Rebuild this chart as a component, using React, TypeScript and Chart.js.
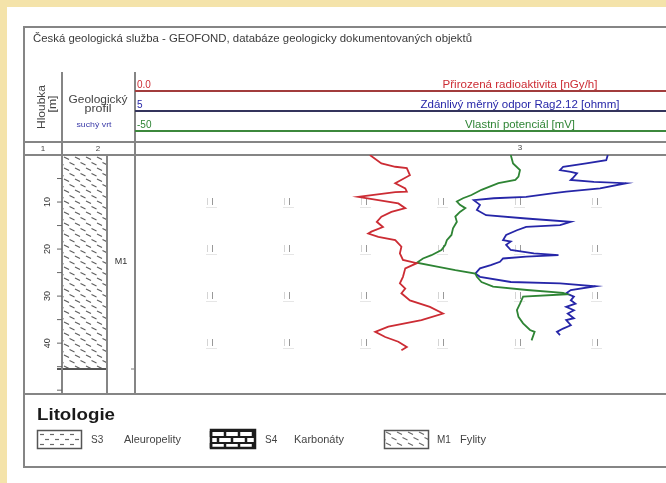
import { useEffect, useRef } from 'react';
import { Chart, registerables } from 'chart.js';

Chart.register(...registerables);

// ---- data (depth in metres) ----
const depthTicks = [10, 20, 30, 40];
const depthMinorStep = 5;
const depthMax = 50.6;
const profileBottom = 45.5; // M1 layer base
const layerCode = 'M1';

const redRange = [0, 100]; // nGy/h
const blueRange = [5, 505]; // ohmm
const greenRange = [-50, 50]; // mV

const redDepth = [0, 1.8, 2.5, 2.8, 4.3, 6.0, 7.1, 7.8, 7.9, 8.9, 9.6, 10.3, 11.3, 12.1, 13.1, 14.2, 15.3, 16.3, 16.7, 17.4, 18.1, 19.5, 20.9, 22.3, 23.0, 24.1, 25.9, 27.3, 28.4, 29.4, 30.9, 32.3, 33.7, 35.1, 36.5, 37.6, 38.7, 39.7, 40.8, 41.5];
const redRate = [30.5, 32.0, 33.8, 35.3, 35.7, 33.8, 35.1, 35.3, 33.8, 29.0, 31.6, 34.2, 35.1, 33.3, 32.0, 31.4, 32.2, 30.7, 30.3, 31.6, 33.8, 34.6, 34.4, 34.8, 36.6, 35.1, 34.8, 34.4, 35.1, 34.6, 35.7, 38.3, 40.0, 37.2, 32.9, 31.2, 32.5, 34.2, 35.3, 34.6];

const greenDepth = [0, 1.8, 3.2, 4.6, 5.3, 6.0, 7.4, 8.5, 9.2, 9.9, 10.6, 11.3, 12.1, 13.1, 14.2, 15.6, 17.0, 18.1, 19.1, 20.2, 21.3, 22.0, 22.9, 23.8, 24.5, 25.2, 25.9, 27.0, 28.0, 28.7, 29.3, 29.6, 30.1, 31.6, 33.0, 34.4, 35.8, 37.2, 37.6, 39.4];
const greenSP = [-1.2, -0.9, 0.0, -0.2, -0.6, -2.8, -5.0, -6.3, -7.4, -8.2, -7.8, -7.1, -7.8, -8.4, -8.2, -8.7, -8.9, -9.5, -9.7, -10.2, -11.5, -12.6, -13.4, -10.6, -8.4, -5.8, -5.6, -5.0, -3.5, 0.9, 5.6, 6.1, 0.4, 0.0, -0.4, -0.2, 0.4, 1.3, 1.9, 1.5];

const blueDepth = [0, 1.1, 1.8, 2.5, 3.2, 3.6, 3.9, 5.0, 5.3, 5.7, 6.0, 7.1, 7.8, 8.1, 8.9, 9.2, 9.6, 10.6, 11.7, 12.8, 13.5, 14.2, 14.9, 15.3, 16.0, 17.0, 18.1, 18.4, 19.1, 20.2, 20.9, 21.3, 21.6, 22.0, 22.7, 23.4, 24.1, 25.2, 25.9, 27.0, 27.3, 27.9, 28.7, 29.4, 30.1, 30.9, 31.6, 32.3, 33.0, 33.7, 34.7, 35.1, 36.2, 36.9, 37.6, 38.3];
const blueRes = [312, 311, 298, 283, 281, 288, 292, 289, 288, 303, 324, 307, 285, 277, 259, 238, 225, 229, 227, 233, 259, 288, 281, 259, 253, 246, 244, 249, 246, 249, 264, 280, 259, 244, 242, 236, 229, 226, 229, 249, 281, 304, 288, 285, 290, 288, 291, 285, 290, 286, 290, 285, 288, 283, 279, 281];

const titleText = 'Česká geologická služba - GEOFOND, databáze geologicky dokumentovaných objektů';
const redLabel = 'Přirozená radioaktivita [nGy/h]';
const blueLabel = 'Zdánlivý měrný odpor Rag2.12 [ohmm]';
const greenLabel = 'Vlastní potenciál [mV]';
const legendItems = [
  { code: 'S3', name: 'Aleuropelity', kind: 'dash' },
  { code: 'S4', name: 'Karbonáty', kind: 'brick' },
  { code: 'M1', name: 'Fylity', kind: 'slant' },
];

const W = 930;
const H = 483;
const FONT = 'Arial, "Liberation Sans", sans-serif';
const RED = '#cc2c34';
const BLUE = '#2626a8';
const GREEN = '#2e8434';

function fitText(ctx: CanvasRenderingContext2D, text: string, x: number, y: number, w: number, font: string, color: string, align: 'left' | 'center' | 'right' = 'left') {
  ctx.save();
  ctx.font = font;
  const m = ctx.measureText(text).width;
  const s = w / m;
  const x0 = align === 'center' ? x - w / 2 : align === 'right' ? x - w : x;
  ctx.fillStyle = color;
  ctx.textAlign = 'left';
  ctx.textBaseline = 'alphabetic';
  ctx.translate(x0, y);
  ctx.scale(s, 1);
  ctx.fillText(text, 0, 0);
  ctx.restore();
}

function hLine(ctx: CanvasRenderingContext2D, x1: number, x2: number, y: number, color: string, w: number) {
  ctx.beginPath();
  ctx.strokeStyle = color;
  ctx.lineWidth = w;
  ctx.moveTo(x1, y);
  ctx.lineTo(x2, y);
  ctx.stroke();
}
function vLine(ctx: CanvasRenderingContext2D, x: number, y1: number, y2: number, color: string, w: number) {
  ctx.beginPath();
  ctx.strokeStyle = color;
  ctx.lineWidth = w;
  ctx.moveTo(x, y1);
  ctx.lineTo(x, y2);
  ctx.stroke();
}

function slantPattern(ctx: CanvasRenderingContext2D, x: number, y: number, w: number, h: number, color: string) {
  ctx.save();
  ctx.beginPath();
  ctx.rect(x, y, w, h);
  ctx.clip();
  ctx.strokeStyle = color;
  ctx.lineWidth = 1.2;
  let row = 0;
  for (let yy = y + 3; yy < y + h + 4; yy += 5.5) {
    const off = row % 2 === 0 ? 2 : 7.5;
    for (let xx = x + off - 11; xx < x + w + 4; xx += 11) {
      ctx.beginPath();
      ctx.moveTo(xx, yy - 1);
      ctx.lineTo(xx + 2, yy);
      ctx.lineTo(xx + 5, yy + 1.5);
      ctx.stroke();
    }
    row++;
  }
  ctx.restore();
}

const framePlugin = {
  id: 'geoFrame',
  beforeDraw(chart: any) {
    const ctx: CanvasRenderingContext2D = chart.ctx;
    const ca = chart.chartArea;
    const ys = chart.scales.y;
    const xr = chart.scales.xRed;
    ctx.save();
    // background
    ctx.fillStyle = '#f4e3aa';
    ctx.fillRect(0, 0, W, H);
    ctx.fillStyle = '#ffffff';
    ctx.fillRect(7, 7, W - 7, H - 7);

    const FR = '#858585';
    const xL = 24;
    const xC1 = 62;
    const xC2 = 107;
    const xC3 = ca.left;
    const xR = 918;
    const yTop = 27;
    const yHead = 72;
    const yNum1 = 142;
    const yNum2 = ca.top;
    const yBody = ca.bottom + 1;
    const yBot = 467;

    // grid marks in curve track
    for (let k = 1; k < 10; k++) {
      const gx = Math.round(xr.getPixelForValue(redRange[0] + (k * (redRange[1] - redRange[0])) / 10));
      for (const d of depthTicks) {
        const gy = Math.round(ys.getPixelForValue(d));
        ctx.fillStyle = '#d4d4d4';
        ctx.fillRect(gx - 5, gy - 4, 1, 7);
        ctx.fillStyle = '#999999';
        ctx.fillRect(gx, gy - 4, 1, 7);
        ctx.fillStyle = '#e6e6e6';
        ctx.fillRect(gx - 6, gy + 5, 11, 1);
      }
    }

    // profile hatch
    const yProf = ys.getPixelForValue(profileBottom);
    slantPattern(ctx, xC1, yNum2, xC2 - xC1, yProf - yNum2, '#5e5e5e');
    hLine(ctx, xC1 - 5, xC2, yProf, '#555555', 2);
    hLine(ctx, xC3 - 4, xC3, yProf, '#777777', 1);

    // frame lines
    ctx.strokeStyle = FR;
    ctx.lineWidth = 2;
    ctx.strokeRect(xL, yTop, xR - xL, yBot - yTop);
    hLine(ctx, xL, xR, yNum1, FR, 2);
    hLine(ctx, xL, xR, yNum2, FR, 2);
    hLine(ctx, xL, xR, yBody, FR, 2);
    vLine(ctx, xC1, yHead, yBody, FR, 2);
    vLine(ctx, xC3, yHead, yBody, FR, 2);
    vLine(ctx, xC2, yNum2, yBody, FR, 2);

    // depth ticks and labels
    for (let d = depthMinorStep; d < depthMax; d += depthMinorStep) {
      const ty = ys.getPixelForValue(d);
      hLine(ctx, xC1 - 5, xC1, ty, '#666666', 1);
    }
    for (const d of depthTicks) {
      const ty = ys.getPixelForValue(d);
      ctx.save();
      ctx.translate(48, ty);
      ctx.rotate(-Math.PI / 2);
      ctx.font = `9px ${FONT}`;
      ctx.fillStyle = '#333333';
      ctx.textAlign = 'center';
      ctx.textBaseline = 'middle';
      ctx.fillText(String(d), 0, 0);
      ctx.restore();
    }

    // layer label
    ctx.font = `9px ${FONT}`;
    ctx.fillStyle = '#333333';
    ctx.textAlign = 'center';
    ctx.textBaseline = 'middle';
    ctx.fillText(layerCode, (xC2 + xC3) / 2, ys.getPixelForValue(profileBottom / 2));

    // title
    fitText(ctx, titleText, 33, 42, 439, `11px ${FONT}`, '#3a3a3a');

    // column headers
    ctx.save();
    ctx.translate(41, 107);
    ctx.rotate(-Math.PI / 2);
    fitText(ctx, 'Hloubka', 0, 4, 44, `11px ${FONT}`, '#444444', 'center');
    fitText(ctx, '[m]', 3, 15, 17, `11px ${FONT}`, '#444444', 'center');
    ctx.restore();
    fitText(ctx, 'Geologický', 98, 103, 59, `11px ${FONT}`, '#444444', 'center');
    fitText(ctx, 'profil', 98, 112, 27, `11px ${FONT}`, '#444444', 'center');
    fitText(ctx, 'suchý vrt', 94, 127, 35, `8px ${FONT}`, '#3a3aa8', 'center');

    ctx.font = `8px ${FONT}`;
    ctx.fillStyle = '#444444';
    ctx.textAlign = 'center';
    ctx.textBaseline = 'middle';
    ctx.fillText('1', (xL + xC1) / 2, 149);
    ctx.fillText('2', 98, 149);
    ctx.fillText('3', (ca.left + ca.right) / 2, 148);

    // curve header lines
    const cx = (ca.left + ca.right) / 2;
    const heads = [
      { y: 91, color: '#a23c3c', text: RED, label: redLabel, w: 155, min: redRange[0].toFixed(1), max: redRange[1].toFixed(1) },
      { y: 111, color: '#34345c', text: BLUE, label: blueLabel, w: 199, min: String(blueRange[0]), max: String(blueRange[1]) },
      { y: 131, color: '#3c883c', text: GREEN, label: greenLabel, w: 110, min: String(greenRange[0]), max: String(greenRange[1]) },
    ];
    for (const h of heads) {
      hLine(ctx, ca.left, ca.right, h.y, h.color, 2);
      fitText(ctx, h.label, cx, h.y - 3, h.w, `10px ${FONT}`, h.text, 'center');
      ctx.font = `10px ${FONT}`;
      ctx.fillStyle = h.text;
      ctx.textAlign = 'left';
      ctx.textBaseline = 'alphabetic';
      ctx.fillText(h.min, ca.left + 2, h.y - 3);
      ctx.textAlign = 'right';
      ctx.fillText(h.max, ca.right - 2, h.y - 3);
    }

    // legend
    fitText(ctx, 'Litologie', 37, 420, 78, `bold 17px ${FONT}`, '#1a1a1a');
    const boxX = [37, 211, 384];
    const codeX = [91, 265, 437];
    const nameX = [124, 294, 460];
    const nameW = [57, 50, 26];
    legendItems.forEach((it, i) => {
      const bx = boxX[i];
      const by = 430;
      const bw = 44;
      const bh = 18;
      ctx.fillStyle = '#ffffff';
      ctx.fillRect(bx, by, bw, bh);
      if (it.kind === 'dash') {
        let r = 0;
        for (let yy = by + 4; yy < by + bh - 1; yy += 5) {
          const off = r % 2 === 0 ? 3 : 8;
          for (let xx = bx + off; xx < bx + bw - 3; xx += 10) {
            hLine(ctx, xx, xx + 4, yy + 0.5, '#6a6a6a', 1.2);
          }
          r++;
        }
        ctx.strokeStyle = '#555555';
        ctx.lineWidth = 1.5;
        ctx.strokeRect(bx + 0.5, by + 0.5, bw, bh);
      } else if (it.kind === 'brick') {
        for (let yy = by + 1; yy <= by + bh; yy += 6) hLine(ctx, bx, bx + bw, yy, '#1c1c1c', 2);
        let r = 0;
        for (let yy = by + 1; yy < by + bh - 1; yy += 6) {
          const off = r % 2 === 0 ? 0 : 7;
          for (let xx = bx + off; xx <= bx + bw; xx += 14) vLine(ctx, xx, yy, Math.min(yy + 6, by + bh), '#1c1c1c', 2.5);
          r++;
        }
        ctx.strokeStyle = '#1c1c1c';
        ctx.lineWidth = 2.5;
        ctx.strokeRect(bx, by, bw, bh);
      } else {
        slantPattern(ctx, bx, by, bw, bh, '#6a6a6a');
        ctx.strokeStyle = '#555555';
        ctx.lineWidth = 1.5;
        ctx.strokeRect(bx + 0.5, by + 0.5, bw, bh);
      }
      ctx.font = `10px ${FONT}`;
      ctx.fillStyle = '#444444';
      ctx.textAlign = 'left';
      ctx.textBaseline = 'alphabetic';
      ctx.fillText(it.code, codeX[i], by + bh / 2 + 4);
      fitText(ctx, it.name, nameX[i], by + bh / 2 + 4, nameW[i], `10px ${FONT}`, '#444444');
    });

    ctx.restore();
  },
};

function makeSet(label: string, depth: number[], vals: number[], color: string, axis: string) {
  return {
    label,
    data: depth.map((d, i) => ({ x: vals[i], y: d })),
    xAxisID: axis,
    yAxisID: 'y',
    showLine: true,
    borderColor: color,
    backgroundColor: color,
    borderWidth: 1.8,
    pointRadius: 0,
    tension: 0,
    fill: false,
  };
}

export default function App() {
  const ref = useRef<HTMLCanvasElement | null>(null);
  useEffect(() => {
    document.body.style.margin = '0';
    const canvas = ref.current;
    if (!canvas) return;
    const chart = new Chart(canvas, {
      type: 'scatter',
      data: {
        datasets: [
          makeSet(redLabel, redDepth, redRate, RED, 'xRed'),
          makeSet(greenLabel, greenDepth, greenSP, GREEN, 'xGreen'),
          makeSet(blueLabel, blueDepth, blueRes, BLUE, 'xBlue'),
        ],
      },
      options: {
        responsive: false,
        maintainAspectRatio: false,
        animation: false,
        devicePixelRatio: 1,
        events: [],
        layout: { padding: { left: 135, top: 155, right: W - 905, bottom: H - 393 } },
        plugins: { legend: { display: false }, tooltip: { enabled: false }, title: { display: false } },
        scales: {
          y: { type: 'linear', reverse: true, min: 0, max: depthMax, display: false },
          xRed: { type: 'linear', axis: 'x', min: redRange[0], max: redRange[1], display: false },
          xBlue: { type: 'linear', axis: 'x', min: blueRange[0], max: blueRange[1], display: false },
          xGreen: { type: 'linear', axis: 'x', min: greenRange[0], max: greenRange[1], display: false },
        },
      } as any,
      plugins: [framePlugin],
    });
    return () => chart.destroy();
  }, []);
  return (
    <div style={{ position: 'fixed', left: 0, top: 0, width: 666, height: 483, overflow: 'hidden', background: '#f4e3aa' }}>
      <canvas ref={ref} width={W} height={H} style={{ display: 'block', width: W, height: H }} />
    </div>
  );
}
